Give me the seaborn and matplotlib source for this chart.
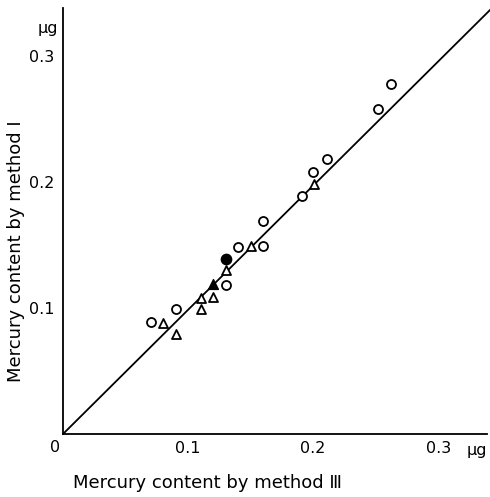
import matplotlib
matplotlib.use("Agg")
import matplotlib.pyplot as plt
import seaborn as sns
import pandas as pd

# Open circles
circ_x = [0.070, 0.090, 0.130, 0.140, 0.160, 0.160, 0.191, 0.200, 0.211, 0.252, 0.262]
circ_y = [0.089, 0.099, 0.118, 0.148, 0.149, 0.169, 0.189, 0.208, 0.218, 0.258, 0.278]
# Open triangles
tri_x = [0.080, 0.090, 0.110, 0.110, 0.120, 0.130, 0.150, 0.201]
tri_y = [0.088, 0.079, 0.108, 0.099, 0.109, 0.130, 0.149, 0.198]
# Filled markers
fcirc_x = [0.130]
fcirc_y = [0.139]
ftri_x = [0.120]
ftri_y = [0.119]

x_ticks = [0.1, 0.2, 0.3]
y_ticks = [0.1, 0.2, 0.3]
x_tick_labels = ["0.1", "0.2", "0.3"]
y_tick_labels = ["0.1", "0.2", "0.3"]

sns.set_theme(style="white")
plt.rcParams['font.family'] = ['DejaVu Sans']
plt.rcParams['text.color'] = 'black'
plt.rcParams['xtick.color'] = 'black'
plt.rcParams['ytick.color'] = 'black'

fig = plt.figure(figsize=(4.90, 4.97), dpi=100)
ax = fig.add_axes([63/490, 63/497, 424/490, 426/497])

df_c = pd.DataFrame({"x": circ_x, "y": circ_y})
df_t = pd.DataFrame({"x": tri_x, "y": tri_y})
df_fc = pd.DataFrame({"x": fcirc_x, "y": fcirc_y})
df_ft = pd.DataFrame({"x": ftri_x, "y": ftri_y})

ax.plot([0, 0.342], [0, 0.337], color="black", lw=1.3, zorder=1, clip_on=False)

sns.scatterplot(data=df_c, x="x", y="y", ax=ax, marker="o", s=42,
                facecolor="white", edgecolor="black", linewidth=1.3, zorder=3)
sns.scatterplot(data=df_t, x="x", y="y", ax=ax, marker="^", s=42,
                facecolor="white", edgecolor="black", linewidth=1.3, zorder=3)
sns.scatterplot(data=df_fc, x="x", y="y", ax=ax, marker="o", s=55,
                color="black", edgecolor="black", linewidth=1, zorder=3)
sns.scatterplot(data=df_ft, x="x", y="y", ax=ax, marker="^", s=50,
                color="black", edgecolor="black", linewidth=1, zorder=3)

ax.set_xlim(0, 0.339)
ax.set_ylim(0, 0.338)
for s in ["top", "right"]:
    ax.spines[s].set_visible(False)
for s in ["left", "bottom"]:
    ax.spines[s].set_color("black")
    ax.spines[s].set_linewidth(1.3)

ax.set_xticks(x_ticks)
ax.set_xticklabels(x_tick_labels, fontsize=11.5, color="black")
ax.set_yticks(y_ticks)
ax.set_yticklabels(y_tick_labels, fontsize=11.5, color="black")
ax.tick_params(axis="x", direction="in", length=4, width=1, pad=5, colors="black")
ax.tick_params(axis="y", direction="out", length=4, width=1, pad=2, colors="black")
ax.set_xlabel("")
ax.set_ylabel("")

fig.text(55/490, 1 - 448/497, "0", fontsize=11.5, ha="center", va="center", color="black")
fig.text(477/490, 1 - 450/497, "μg", fontsize=11.5, ha="center", va="center", color="black")
fig.text(48/490, 1 - 28/497, "μg", fontsize=11.5, ha="center", va="center", color="black")
fig.text(207/490, 1 - 483/497, "Mercury content by method Ⅲ", fontsize=13,
         ha="center", va="center", family=['DejaVu Sans'], color="black")
fig.text(16/490, 1 - 251/497, "Mercury content by method Ⅰ", fontsize=13,
         ha="center", va="center", rotation=90, family=['DejaVu Sans'], color="black")

fig.savefig("out.png", dpi=100, facecolor="white")
